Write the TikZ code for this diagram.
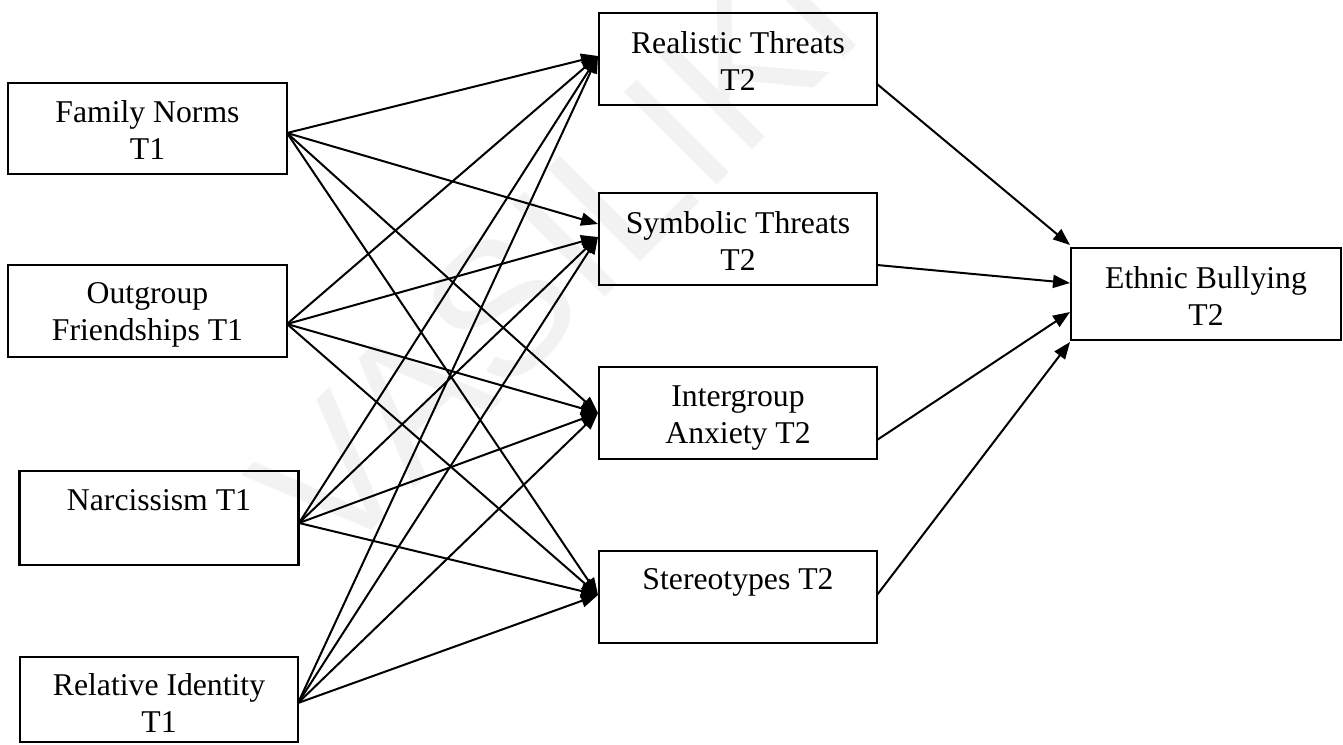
\documentclass[tikz,border=0pt]{standalone}
\usepackage{fontspec}
\setmainfont{Liberation Serif}
\newfontfamily\wmfont{Liberation Sans}
\usetikzlibrary{arrows.meta}
\begin{document}
\begin{tikzpicture}[x=1pt,y=-1pt,
  box/.style={draw, line width=2.4pt, inner sep=0pt},
  lbl/.style={anchor=north, align=center, inner sep=0pt,
              font=\fontsize{31.7}{37}\selectfont},
  arr/.style={line width=2pt, -{Triangle[length=17pt,width=13pt]}},
]
\useasboundingbox (0,0) rectangle (1343,744);

% faint background lettering
\node[rotate=45, text=black!5, font=\wmfont\fontsize{190}{190}\selectfont]
  (wm) at (555,255) {VASILIKI};

% predictor boxes (T1)
\node[box, minimum width=279pt, minimum height=91pt] (fn) at (147.5,128.5) {};
\node[box, minimum width=279pt, minimum height=92pt] (of) at (147.5,311) {};
\node[box, minimum width=279pt, minimum height=94pt] (na) at (159,518) {};
\node[box, minimum width=278pt, minimum height=85pt] (ri) at (159,699.5) {};

% mediator boxes (T2)
\node[box, minimum width=278pt, minimum height=92pt] (rt) at (738,59) {};
\node[box, minimum width=278pt, minimum height=92pt] (st) at (738,239) {};
\node[box, minimum width=278pt, minimum height=92pt] (ia) at (738,413) {};
\node[box, minimum width=278pt, minimum height=92pt] (sr) at (738,597) {};

% outcome box
\node[box, minimum width=270pt, minimum height=92pt] (eb) at (1206,294) {};

% labels
\node[lbl] (fnt) at (147.5,100.3) {Family Norms\\T1};
\node[lbl] (oft) at (147.5,282.3) {Outgroup\\Friendships T1};
\node[lbl] (nat) at (159,489.5) {Narcissism T1};
\node[lbl] (rit) at (159,673.3) {Relative Identity\\T1};
\node[lbl] (rtt) at (738,31.3) {Realistic Threats\\T2};
\node[lbl] (stt) at (738,211.3) {Symbolic Threats\\T2};
\node[lbl] (iat) at (738,385.3) {Intergroup\\Anxiety T2};
\node[lbl] (srt) at (738,568.3) {Stereotypes T2};
\node[lbl] (ebt) at (1206,266.3) {Ethnic Bullying\\T2};

% ports where the paths leave and enter the boxes
\coordinate (fn-o) at (287,133);
\coordinate (of-o) at (287,324);
\coordinate (na-o) at (299,523);
\coordinate (ri-o) at (298,703);

\coordinate (rt-i) at (598,56);
\coordinate (st-ia) at (598,224);
\coordinate (st-ib) at (598,237);
\coordinate (ia-i) at (598,413);
\coordinate (sr-i) at (598,595);

\coordinate (rt-o) at (877,84);
\coordinate (st-o) at (877,265);
\coordinate (ia-o) at (877,440);
\coordinate (sr-o) at (877,595);

\coordinate (eb-ia) at (1070,245);
\coordinate (eb-ib) at (1070,283);
\coordinate (eb-ic) at (1070,312);
\coordinate (eb-id) at (1070,342);

% T1 -> T2 paths
\foreach \s in {fn-o,of-o,na-o,ri-o}{
  \draw[arr] (\s) -- (rt-i);
  \draw[arr] (\s) -- (ia-i);
  \draw[arr] (\s) -- (sr-i);
}
\draw[arr] (fn-o) -- (st-ia);
\foreach \s in {of-o,na-o,ri-o}{
  \draw[arr] (\s) -- (st-ib);
}

% T2 -> outcome paths
\draw[arr] (rt-o) -- (eb-ia);
\draw[arr] (st-o) -- (eb-ib);
\draw[arr] (ia-o) -- (eb-ic);
\draw[arr] (sr-o) -- (eb-id);
\end{tikzpicture}
\end{document}
